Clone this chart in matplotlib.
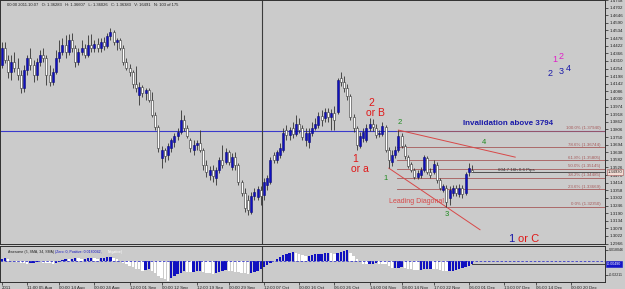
import numpy as np
import matplotlib
matplotlib.use('Agg')
import matplotlib.pyplot as plt

plt.rcParams['font.family'] = ['Liberation Sans', 'DejaVu Sans']

# ---- price bars (one row = 10 bars) ----
opens = [1.4278, 1.4403, 1.4315, 1.4227, 1.4300, 1.4256, 1.4205, 1.4109, 1.4242, 1.4330,
         1.4278, 1.4205, 1.4300, 1.4352, 1.4330, 1.4205, 1.4153, 1.4227, 1.4330, 1.4374,
         1.4425, 1.4374, 1.4462, 1.4403, 1.4300, 1.4374, 1.4403, 1.4352, 1.4425, 1.4403,
         1.4433, 1.4403, 1.4447, 1.4418, 1.4491, 1.4521, 1.4447, 1.4462, 1.4403, 1.4300,
         1.4256, 1.4227, 1.4139, 1.4058, 1.4117, 1.4073, 1.4095, 1.4021, 1.3911, 1.3823,
         1.3595, 1.3654, 1.3617, 1.3668, 1.3712, 1.3756, 1.3786, 1.3874, 1.3815, 1.3727,
         1.3654, 1.3690, 1.3705, 1.3654, 1.3543, 1.3470, 1.3507, 1.3448, 1.3507, 1.3580,
         1.3565, 1.3639, 1.3529, 1.3602, 1.3543, 1.3418, 1.3338, 1.3286, 1.3198, 1.3315,
         1.3308, 1.3360, 1.3323, 1.3396, 1.3418, 1.3617, 1.3580, 1.3617, 1.3654, 1.3801,
         1.3764, 1.3815, 1.3771, 1.3845, 1.3815, 1.3727, 1.3712, 1.3779, 1.3815, 1.3837,
         1.3903, 1.3889, 1.3933, 1.3896, 1.3926, 1.3933, 1.4183, 1.4153, 1.4109, 1.4050,
         1.3896, 1.3815, 1.3683, 1.3742, 1.3727, 1.3815, 1.3845, 1.3815, 1.3771, 1.3771,
         1.3823, 1.3654, 1.3565, 1.3617, 1.3654, 1.3756, 1.3683, 1.3602, 1.3551, 1.3507,
         1.3456, 1.3470, 1.3507, 1.3595, 1.3492, 1.3492, 1.3543, 1.3433, 1.3360, 1.3374,
         1.3301, 1.3338, 1.3374, 1.3330, 1.3374, 1.3338, 1.3492, 1.3507]
highs = [1.4447, 1.4447, 1.4352, 1.4352, 1.4374, 1.4330, 1.4242, 1.4278, 1.4352, 1.4403,
         1.4315, 1.4330, 1.4389, 1.4403, 1.4352, 1.4278, 1.4256, 1.4389, 1.4462, 1.4477,
         1.4499, 1.4506, 1.4513, 1.4425, 1.4403, 1.4462, 1.4433, 1.4499, 1.4506, 1.4462,
         1.4477, 1.4477, 1.4484, 1.4513, 1.4550, 1.4536, 1.4477, 1.4477, 1.4425, 1.4330,
         1.4286, 1.4242, 1.4271, 1.4153, 1.4131, 1.4109, 1.4109, 1.4080, 1.3933, 1.3837,
         1.3683, 1.3668, 1.3705, 1.3742, 1.3779, 1.3815, 1.3948, 1.3911, 1.3837, 1.3742,
         1.3727, 1.3727, 1.3801, 1.3668, 1.3580, 1.3536, 1.3543, 1.3529, 1.3602, 1.3690,
         1.3668, 1.3654, 1.3632, 1.3639, 1.3558, 1.3433, 1.3374, 1.3323, 1.3345, 1.3374,
         1.3389, 1.3389, 1.3448, 1.3470, 1.3602, 1.3639, 1.3654, 1.3705, 1.3815, 1.3837,
         1.3823, 1.3859, 1.3911, 1.3889, 1.3837, 1.3815, 1.3815, 1.3859, 1.3889, 1.3933,
         1.3948, 1.3962, 1.3962, 1.3955, 1.3977, 1.4183, 1.4227, 1.4197, 1.4139, 1.4065,
         1.3918, 1.3830, 1.3786, 1.3815, 1.3845, 1.3889, 1.3881, 1.3845, 1.3801, 1.3859,
         1.3837, 1.3676, 1.3654, 1.3683, 1.3801, 1.3779, 1.3698, 1.3617, 1.3565, 1.3521,
         1.3507, 1.3529, 1.3617, 1.3609, 1.3521, 1.3580, 1.3565, 1.3448, 1.3404, 1.3396,
         1.3389, 1.3396, 1.3396, 1.3404, 1.3396, 1.3492, 1.3558, 1.3543]
lows = [1.4256, 1.4293, 1.4183, 1.4168, 1.4227, 1.4168, 1.4073, 1.4080, 1.4205, 1.4242,
        1.4153, 1.4168, 1.4271, 1.4300, 1.4131, 1.4124, 1.4131, 1.4212, 1.4300, 1.4352,
        1.4330, 1.4352, 1.4374, 1.4264, 1.4278, 1.4352, 1.4330, 1.4337, 1.4374, 1.4374,
        1.4374, 1.4374, 1.4389, 1.4403, 1.4462, 1.4425, 1.4389, 1.4389, 1.4278, 1.4242,
        1.4197, 1.4109, 1.4080, 1.3984, 1.4043, 1.4021, 1.4006, 1.3896, 1.3801, 1.3639,
        1.3521, 1.3565, 1.3580, 1.3639, 1.3676, 1.3727, 1.3771, 1.3793, 1.3742, 1.3639,
        1.3617, 1.3654, 1.3639, 1.3507, 1.3456, 1.3433, 1.3418, 1.3396, 1.3485, 1.3521,
        1.3551, 1.3543, 1.3507, 1.3507, 1.3396, 1.3315, 1.3198, 1.3176, 1.3183, 1.3286,
        1.3286, 1.3249, 1.3286, 1.3360, 1.3404, 1.3558, 1.3558, 1.3595, 1.3639, 1.3727,
        1.3727, 1.3742, 1.3756, 1.3779, 1.3727, 1.3683, 1.3668, 1.3756, 1.3801, 1.3815,
        1.3830, 1.3859, 1.3859, 1.3801, 1.3801, 1.3918, 1.4124, 1.4080, 1.4021, 1.3874,
        1.3786, 1.3654, 1.3668, 1.3712, 1.3712, 1.3793, 1.3793, 1.3742, 1.3749, 1.3756,
        1.3639, 1.3521, 1.3536, 1.3595, 1.3639, 1.3668, 1.3587, 1.3521, 1.3492, 1.3440,
        1.3440, 1.3448, 1.3492, 1.3477, 1.3448, 1.3477, 1.3411, 1.3360, 1.3345, 1.3235,
        1.3249, 1.3315, 1.3315, 1.3308, 1.3301, 1.3323, 1.3462, 1.3492]
closes = [1.4403, 1.4315, 1.4227, 1.4300, 1.4256, 1.4205, 1.4109, 1.4242, 1.4330, 1.4278,
          1.4205, 1.4300, 1.4352, 1.4330, 1.4205, 1.4153, 1.4227, 1.4330, 1.4374, 1.4425,
          1.4374, 1.4462, 1.4403, 1.4300, 1.4374, 1.4403, 1.4352, 1.4425, 1.4403, 1.4433,
          1.4403, 1.4447, 1.4418, 1.4491, 1.4521, 1.4447, 1.4462, 1.4403, 1.4300, 1.4256,
          1.4227, 1.4139, 1.4109, 1.4117, 1.4073, 1.4095, 1.4021, 1.3911, 1.3823, 1.3668,
          1.3654, 1.3609, 1.3683, 1.3727, 1.3756, 1.3786, 1.3874, 1.3815, 1.3756, 1.3668,
          1.3690, 1.3705, 1.3654, 1.3543, 1.3492, 1.3507, 1.3462, 1.3507, 1.3580, 1.3543,
          1.3639, 1.3565, 1.3602, 1.3543, 1.3418, 1.3338, 1.3227, 1.3213, 1.3315, 1.3345,
          1.3367, 1.3315, 1.3418, 1.3448, 1.3580, 1.3580, 1.3639, 1.3668, 1.3779, 1.3764,
          1.3801, 1.3771, 1.3845, 1.3801, 1.3749, 1.3779, 1.3779, 1.3815, 1.3845, 1.3903,
          1.3874, 1.3933, 1.3896, 1.3926, 1.3874, 1.4168, 1.4153, 1.4109, 1.4050, 1.3896,
          1.3815, 1.3690, 1.3756, 1.3786, 1.3815, 1.3845, 1.3823, 1.3764, 1.3779, 1.3830,
          1.3654, 1.3580, 1.3617, 1.3654, 1.3756, 1.3683, 1.3609, 1.3536, 1.3507, 1.3456,
          1.3485, 1.3507, 1.3602, 1.3492, 1.3470, 1.3551, 1.3433, 1.3374, 1.3389, 1.3271,
          1.3360, 1.3374, 1.3338, 1.3374, 1.3330, 1.3477, 1.3521, 1.3493]

# Awesome oscillator, one value per bar
ao = [0.0041, 0.0057, 0.0025, 0.0008, -0.0008, -0.0016, -0.0025, -0.0033, -0.0041, -0.0033,
      -0.0025, -0.0016, -0.0020, -0.0025, -0.0030, -0.0036, -0.0041, -0.0033, -0.0016, 0.0016,
      0.0033, 0.0025, 0.0041, 0.0057, 0.0049, 0.0033, 0.0041, 0.0049, 0.0057, 0.0049,
      0.0041, 0.0049, 0.0057, 0.0062, 0.0066, 0.0049, 0.0025, 0.0002, -0.0025, -0.0049,
      -0.0074, -0.0098, -0.0123, -0.0139, -0.0156, -0.0148, -0.0139, -0.0164, -0.0197, -0.0238,
      -0.0279, -0.0303, -0.0320, -0.0279, -0.0246, -0.0213, -0.0189, -0.0164, -0.0172, -0.0180,
      -0.0172, -0.0164, -0.0156, -0.0172, -0.0189, -0.0197, -0.0205, -0.0197, -0.0180, -0.0164,
      -0.0148, -0.0156, -0.0164, -0.0172, -0.0180, -0.0189, -0.0197, -0.0205, -0.0197, -0.0180,
      -0.0156, -0.0131, -0.0098, -0.0066, -0.0033, 0.0008, 0.0041, 0.0066, 0.0098, 0.0123,
      0.0139, 0.0148, 0.0139, 0.0123, 0.0098, 0.0082, 0.0090, 0.0098, 0.0107, 0.0115,
      0.0123, 0.0131, 0.0136, 0.0128, 0.0118, 0.0128, 0.0148, 0.0164, 0.0180, 0.0131,
      0.0082, 0.0033, -0.0016, -0.0041, -0.0049, -0.0046, -0.0041, -0.0036, -0.0041, -0.0049,
      -0.0057, -0.0074, -0.0115, -0.0112, -0.0107, -0.0102, -0.0107, -0.0123, -0.0134, -0.0144,
      -0.0151, -0.0148, -0.0139, -0.0131, -0.0123, -0.0128, -0.0139, -0.0151, -0.0161, -0.0169,
      -0.0164, -0.0157, -0.0148, -0.0134, -0.0120, -0.0098, -0.0074, -0.0049]

date_ticks = [0, 8, 18, 29, 40, 50, 61, 71, 82, 93, 104, 115, 125, 135, 146, 157, 167, 178]
date_labels = ['2011', '11:00 05 Aug', '00:00 14 Aug', '00:00 24 Aug', '12:00 01 Sep',
               '00:00 12 Sep', '12:00 19 Sep', '00:00 29 Sep', '12:00 07 Oct', '00:00 16 Oct',
               '06:00 26 Oct', '14:00 04 Nov', '08:00 14 Nov', '17:00 22 Nov', '06:00 01 Dec',
               '13:00 07 Dec', '06:00 14 Dec', '00:00 20 Dec']

invalidation = 1.3794
fib_levels = [0.0, 23.6, 38.2, 50.0, 61.8, 78.6, 100.0]
fib_low, fib_high = 1.3235, 1.3794
fib_start = 123.5
diag_upper = ([124, 160.5], [1.3801, 1.3602])
diag_lower = ([121, 149.5], [1.3521, 1.3068])
separator_bar = 81.4

BG = '#cbcbcb'
BLUE = '#1010c0'
FIB = '#a65a5a'

W, H = 625, 289
fig = plt.figure(figsize=(W / 100, H / 100), dpi=100, facecolor=BG)
ax = fig.add_axes([0, 1 - 244 / H, 605 / W, 244 / H], facecolor=BG)
ax2 = fig.add_axes([0, 1 - 282 / H, 605 / W, 36 / H], facecolor=BG)

x = np.arange(len(closes))
o = np.array(opens); h = np.array(highs); l = np.array(lows); c = np.array(closes)
up = c >= o

# candles
ax.vlines(x, l, h, color='#333333', lw=0.6, zorder=2)
ax.bar(x[up], (c - o)[up], bottom=o[up], width=0.65, color=BLUE, edgecolor='#101070', lw=0.4, zorder=3)
ax.bar(x[~up], (o - c)[~up], bottom=c[~up], width=0.65, color='white', edgecolor='#333333', lw=0.4, zorder=3)

xmax = 188.56
ax.set_xlim(-0.5, xmax)
ax.set_ylim(1.2963, 1.4756)
ax.set_xticks([])

# invalidation line
ax.axhline(invalidation, color='#3a3acc', lw=0.8, zorder=1)
ax.axvline(separator_bar, color='#3c3c3c', lw=0.8, zorder=1)

# fibonacci retracement
for lv in fib_levels:
    p = fib_low + (fib_high - fib_low) * lv / 100
    ax.plot([fib_start, xmax], [p, p], color=FIB, lw=0.6, zorder=1)
    ax.text(187.2, p + 0.0004, f'{lv:.1f}% ({p:.5f})', color=FIB, fontsize=3.2,
            ha='right', va='bottom')

# leading diagonal lines
ax.plot(diag_upper[0], diag_upper[1], color='#d84848', lw=0.7, zorder=1)
ax.plot(diag_lower[0], diag_lower[1], color='#d84848', lw=0.7, zorder=1)

# current price line
last = closes[-1]
ax.plot([len(closes) - 1, xmax], [last, last], color='#505050', lw=0.7, zorder=1)
ax.text(155, last + 0.0003, '604.7 16h 0.6 Pips', color='#303030', fontsize=3.2, va='bottom')

# wave labels
RED = '#e01818'
GREEN = '#1e8a1e'
ax.text(115.4, 1.3999, '2', color=RED, fontsize=7.5, ha='center', va='center')
ax.text(116.7, 1.3926, 'or B', color=RED, fontsize=7.5, ha='center', va='center')
ax.text(110.4, 1.3587, '1', color=RED, fontsize=7.5, ha='center', va='center')
ax.text(112.0, 1.3514, 'or a', color=RED, fontsize=7.5, ha='center', va='center')
ax.text(124.5, 1.3859, '2', color=GREEN, fontsize=5.5, ha='center', va='center')
ax.text(120.1, 1.3448, '1', color=GREEN, fontsize=5.5, ha='center', va='center')
ax.text(139.2, 1.3183, '3', color=GREEN, fontsize=5.5, ha='center', va='center')
ax.text(150.8, 1.3712, '4', color=GREEN, fontsize=5.5, ha='center', va='center')
ax.text(129.8, 1.3279, 'Leading Diagonal', color='#d84848', fontsize=5, ha='center', va='center')
ax.text(144.2, 1.3852, 'Invalidation above 3794', color='#1a1aa8', fontsize=5.8,
        fontweight='bold', va='center')
ax.text(173.0, 1.4322, '1', color='#e020c8', fontsize=6.5, ha='center', va='center')
ax.text(174.8, 1.4344, '2', color='#e020c8', fontsize=6.5, ha='center', va='center')
ax.text(171.4, 1.4220, '2', color='#1a1aa8', fontsize=6.5, ha='center', va='center')
ax.text(174.8, 1.4234, '3', color='#1a1aa8', fontsize=6.5, ha='center', va='center')
ax.text(177.0, 1.4256, '4', color='#1a1aa8', fontsize=6.5, ha='center', va='center')
ax.text(159.2, 1.2999, '1', color='#1a1aa8', fontsize=8, ha='center', va='center')
ax.text(164.6, 1.2999, 'or C', color=RED, fontsize=8, ha='center', va='center')

# right price scale
ax.yaxis.tick_right()
ticks = np.round(np.arange(1.2966, 1.4760, 0.0056), 4)
ax.set_yticks(ticks)
ax.set_yticklabels([f'{t:.4f}' for t in ticks], fontsize=3.2)
ax.tick_params(axis='y', length=2, width=0.5, pad=1, colors='#202020')
ax.text(1.004, last, f'{last:.5f}', transform=ax.get_yaxis_transform(), fontsize=3.0,
        va='center', ha='left', color='#202020',
        bbox=dict(boxstyle='square,pad=0.15', fc='#f2dcd4', ec=FIB, lw=0.4))
for s in ax.spines.values():
    s.set_color('#303030'); s.set_linewidth(0.7)

fig.text(7 / W, 1 - 5 / H, '00:00 2011.10.07   O: 1.36283   H: 1.36607   L: 1.36026   C: 1.36383   V: 16491   N: 103 of 175',
         fontsize=3, va='center', color='#202020')

# awesome oscillator
ao = np.array(ao)
ao_up = np.r_[True, ao[1:] > ao[:-1]]
ax2.bar(x[ao_up], ao[ao_up], width=0.7, color=BLUE, lw=0)
ax2.bar(x[~ao_up], ao[~ao_up], width=0.7, color='white', lw=0)
ax2.axhline(0, color='#3a3acc', lw=0.6, ls=(0, (3, 2)))
ax2.plot([len(ao) - 1, xmax], [ao[-1], ao[-1]], color='#404040', lw=0.7)
ax2.set_xlim(-0.5, xmax)
ax2.set_ylim(-0.0344, 0.0246)
ax2.axvline(separator_bar, color='#3c3c3c', lw=0.8)
ax2.yaxis.tick_right()
ax2.set_yticks([0.018046, -0.0221144])
ax2.set_yticklabels(['0.018046', '-0.02211'], fontsize=2.6)
ax2.tick_params(axis='y', length=2, width=0.5, pad=0.8, colors='#202020')
ax2.text(1.003, ao[-1], f'{ao[-1]:.5f}', transform=ax2.get_yaxis_transform(), fontsize=2.6,
         va='center', ha='left', color='white',
         bbox=dict(boxstyle='square,pad=0.2', fc='#1414c8', ec='#1414c8', lw=0.4))
ax2.set_xticks(date_ticks)
ax2.set_xticklabels(date_labels, fontsize=3.2, ha='left')
ax2.tick_params(axis='x', length=2, width=0.5, pad=1, colors='#202020')
for s in ax2.spines.values():
    s.set_color('#303030'); s.set_linewidth(0.7)

fig.text(7.5 / W, 1 - 251.5 / H, 'Awesome (5, SMA, 34, SMA)', fontsize=2.5, va='center', color='#202020')
fig.text(55 / W, 1 - 251.5 / H, '(Zero: 0, Positive: 0.0180042,', fontsize=2.5, va='center', color=BLUE)
fig.text(108 / W, 1 - 251.5 / H, 'Negative)', fontsize=2.5, va='center', color='white')

fig.savefig('out.png', dpi=100, facecolor=BG)
